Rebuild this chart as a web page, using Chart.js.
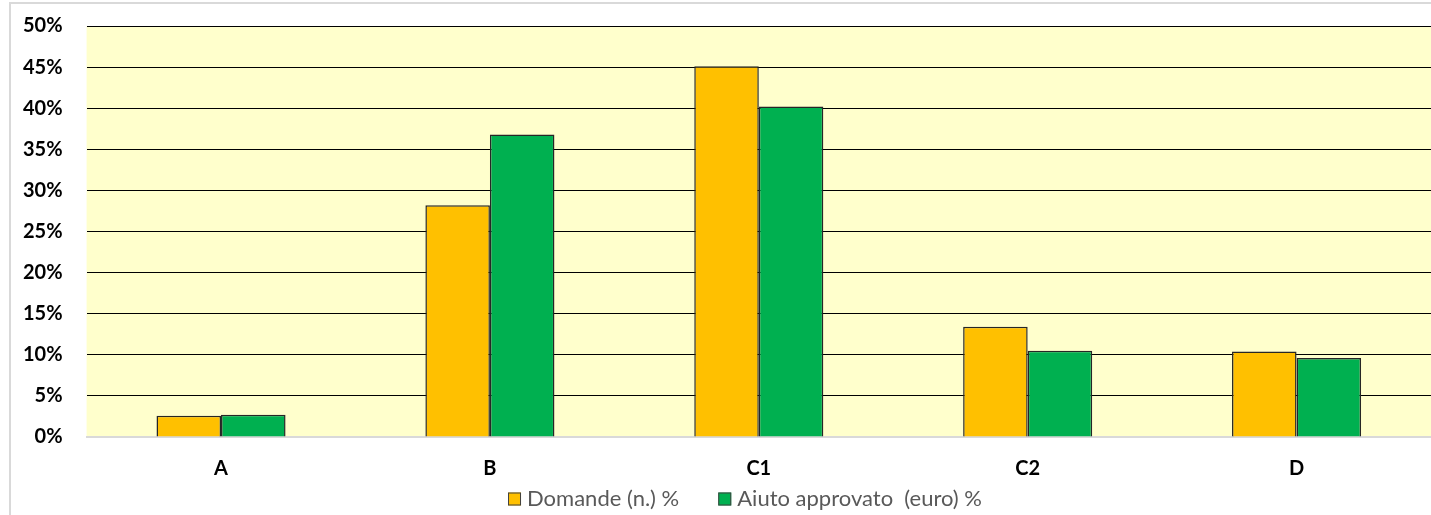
<!DOCTYPE html>
<html>
<head>
<meta charset="utf-8">
<script src="https://cdn.jsdelivr.net/npm/chart.js@4.4.1/dist/chart.umd.min.js"></script>
<style>
html,body{margin:0;padding:0;background:#fff;}
#wrap{position:absolute;left:0;top:0;width:1431px;height:515px;}
#frame{position:absolute;left:9px;top:2px;width:1440px;height:530px;border-left:2px solid #d9d9d9;border-top:2px solid #d9d9d9;}
canvas{position:absolute;left:0;top:0;}
</style>
</head>
<body>
<div id="wrap">
<div id="frame"></div>
<canvas id="c" width="1431" height="515"></canvas>
</div>
<script>
const categories = ['A', 'B', 'C1', 'C2', 'D'];
const domande = [2.6, 28.2, 45.1, 13.4, 10.4];
const aiuto = [2.7, 36.8, 40.2, 10.5, 9.6];
const seriesNames = ['Domande (n.) %', 'Aiuto approvato  (euro) %'];

const bgPlugin = {
  id: 'plotBg',
  beforeDraw(chart) {
    const {ctx, chartArea} = chart;
    ctx.save();
    ctx.fillStyle = '#FFFFCC';
    ctx.fillRect(chartArea.left, chartArea.top, chartArea.right - chartArea.left, chartArea.bottom - chartArea.top);
    ctx.restore();
  }
};

const legendPlugin = {
  id: 'bottomLegend',
  afterDraw(chart) {
    const ctx = chart.ctx;
    const ds = chart.data.datasets;
    const box = 13, gapBox = 6, gapItem = 39;
    ctx.save();
    ctx.font = '22px Lato';
    const widths = ds.map(d => box + gapBox + ctx.measureText(d.label).width);
    const total = widths.reduce((a, b) => a + b, 0) + gapItem * (ds.length - 1);
    let x = 745 - total / 2;
    const y = 499;
    ds.forEach((d, i) => {
      ctx.fillStyle = d.backgroundColor;
      ctx.fillRect(x, y - box / 2, box, box);
      ctx.strokeStyle = '#404040';
      ctx.lineWidth = 1;
      ctx.strokeRect(x + 0.5, y - box / 2 + 0.5, box - 1, box - 1);
      ctx.fillStyle = '#595959';
      ctx.textBaseline = 'middle';
      ctx.textAlign = 'left';
      ctx.fillText(d.label, x + box + gapBox, y);
      x += widths[i] + gapItem;
    });
    ctx.restore();
  }
};

new Chart(document.getElementById('c'), {
  type: 'bar',
  data: {
    labels: categories,
    datasets: [
      {label: seriesNames[0], data: domande, backgroundColor: '#FFC000', borderColor: '#262626', borderWidth: 1.5},
      {label: seriesNames[1], data: aiuto, backgroundColor: '#00B050', borderColor: '#262626', borderWidth: 1.5}
    ]
  },
  options: {
    responsive: false,
    animation: false,
    devicePixelRatio: 1,
    layout: {padding: {left: -1, right: 0, top: 26, bottom: 34}},
    datasets: {bar: {categoryPercentage: 0.48, barPercentage: 1}},
    plugins: {
      legend: {display: false},
      tooltip: {enabled: false}
    },
    scales: {
      x: {
        grid: {display: false, drawTicks: false},
        border: {display: true, color: '#d9d9d9', width: 2},
        ticks: {font: {family: 'Lato', size: 20, weight: 'bold'}, color: '#000', padding: 20},
        afterFit: s => { s.height = 44; }
      },
      y: {
        min: 0, max: 50,
        grid: {color: '#000', lineWidth: 1, drawTicks: false},
        border: {display: false},
        ticks: {stepSize: 5, font: {family: 'Lato', size: 20, weight: 'bold'}, color: '#000', padding: 24,
          callback: v => v + '%'},
        afterFit: s => { s.paddingTop = 0; s.paddingBottom = 0; }
      }
    }
  },
  plugins: [bgPlugin, legendPlugin]
});
</script>
</body>
</html>
